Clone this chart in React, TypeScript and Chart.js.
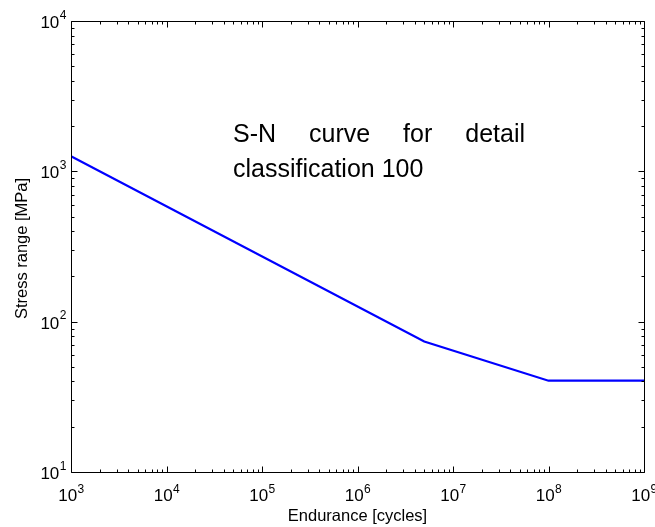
import React, { useEffect, useRef } from "react";
import { Chart, registerables } from "chart.js";

Chart.register(...registerables);

// Data
const enduranceCycles = [1e3, 5e6, 1e8, 1e9];
const stressRangeMPa = [1260, 73.7, 40.5, 40.5];

// Axis settings
const xTickExponents = [3, 4, 5, 6, 7, 8, 9];
const yTickExponents = [1, 2, 3, 4];
const xTitle = "Endurance [cycles]";
const yTitle = "Stress range [MPa]";
const noteLine1 = ["S-N", "curve", "for", "detail"];
const noteLine2 = "classification 100";

const FONT = "'Liberation Sans', Arial, Helvetica, sans-serif";

const decorPlugin = {
  id: "matlabDecor",
  afterDraw(chart: any) {
    const ctx = chart.ctx as CanvasRenderingContext2D;
    const { left, right, top, bottom } = chart.chartArea;
    const xs = chart.scales.x;
    const ys = chart.scales.y;
    ctx.save();
    ctx.strokeStyle = "#000";
    ctx.fillStyle = "#000";
    ctx.lineWidth = 1;
    const L = Math.round(left) + 0.5;
    const R = Math.round(right) + 0.5;
    const T = Math.round(top) + 0.5;
    const B = Math.round(bottom) + 0.5;
    // box
    ctx.beginPath();
    ctx.moveTo(L, T);
    ctx.lineTo(R, T);
    ctx.lineTo(R, B);
    ctx.lineTo(L, B);
    ctx.closePath();
    ctx.stroke();

    // x ticks
    ctx.beginPath();
    const xe0 = xTickExponents[0];
    const xe1 = xTickExponents[xTickExponents.length - 1];
    for (let e = xe0; e <= xe1; e++) {
      const maxM = e === xe1 ? 1 : 9;
      for (let m = 1; m <= maxM; m++) {
        const x = Math.round(xs.getPixelForValue(m * Math.pow(10, e))) + 0.5;
        const len = m === 1 ? 6 : 3;
        ctx.moveTo(x, B);
        ctx.lineTo(x, B - len);
        ctx.moveTo(x, T);
        ctx.lineTo(x, T + len);
      }
    }
    const ye0 = yTickExponents[0];
    const ye1 = yTickExponents[yTickExponents.length - 1];
    for (let e = ye0; e <= ye1; e++) {
      const maxM = e === ye1 ? 1 : 9;
      for (let m = 1; m <= maxM; m++) {
        const y = Math.round(ys.getPixelForValue(m * Math.pow(10, e))) + 0.5;
        const len = m === 1 ? 6 : 3;
        ctx.moveTo(L, y);
        ctx.lineTo(L + len, y);
        ctx.moveTo(R, y);
        ctx.lineTo(R - len, y);
      }
    }
    ctx.stroke();

    // tick labels
    const bigFont = "17px " + FONT;
    const supFont = "12px " + FONT;
    ctx.textBaseline = "alphabetic";
    xTickExponents.forEach((e) => {
      const x = xs.getPixelForValue(Math.pow(10, e));
      ctx.font = bigFont;
      const w10 = ctx.measureText("10").width;
      ctx.font = supFont;
      const ws = ctx.measureText(String(e)).width;
      const start = x - (w10 + ws) / 2;
      ctx.textAlign = "left";
      ctx.font = bigFont;
      ctx.fillText("10", start, B + 28);
      ctx.font = supFont;
      ctx.fillText(String(e), start + w10 + 0.5, B + 20);
    });
    yTickExponents.forEach((e) => {
      const y = ys.getPixelForValue(Math.pow(10, e));
      ctx.font = supFont;
      const ws = ctx.measureText(String(e)).width;
      const supX = L - 5 - ws;
      ctx.textAlign = "left";
      ctx.fillText(String(e), supX, y - 2.5);
      ctx.font = bigFont;
      ctx.textAlign = "right";
      ctx.fillText("10", supX - 0.5, y + 7);
    });

    // axis titles
    ctx.font = "16.5px " + FONT;
    ctx.textAlign = "center";
    ctx.fillText(xTitle, (left + right) / 2, 521);
    ctx.save();
    ctx.translate(27, (top + bottom) / 2 + 2);
    ctx.rotate(-Math.PI / 2);
    ctx.fillText(yTitle, 0, 0);
    ctx.restore();

    // annotation text (justified first line)
    ctx.font = "25px " + FONT;
    ctx.textAlign = "left";
    const x0 = 233;
    const x1 = 525;
    const widths = noteLine1.map((w) => ctx.measureText(w).width);
    const total = widths.reduce((a, b) => a + b, 0);
    const gap = (x1 - x0 - total) / (noteLine1.length - 1);
    let cx = x0;
    noteLine1.forEach((w, i) => {
      ctx.fillText(w, cx, 142);
      cx += widths[i] + gap;
    });
    ctx.fillText(noteLine2, x0, 177);
    ctx.restore();
  },
};

export default function App() {
  const ref = useRef<HTMLCanvasElement | null>(null);
  useEffect(() => {
    if (!ref.current) return;
    const chart = new Chart(ref.current, {
      type: "line",
      data: {
        datasets: [
          {
            data: enduranceCycles.map((n, i) => ({ x: n, y: stressRangeMPa[i] })),
            borderColor: "#0000ff",
            borderWidth: 2.2,
            pointRadius: 0,
            fill: false,
            tension: 0,
          },
        ],
      },
      options: {
        responsive: false,
        animation: false,
        devicePixelRatio: 1,
        layout: { padding: { left: 71, right: 11, top: 21, bottom: 55 } },
        plugins: { legend: { display: false }, tooltip: { enabled: false } },
        scales: {
          x: { type: "logarithmic", min: 1e3, max: 1e9, display: false },
          y: { type: "logarithmic", min: 10, max: 1e4, display: false },
        },
      },
      plugins: [decorPlugin],
    });
    return () => chart.destroy();
  }, []);
  return (
    <div style={{ position: "absolute", left: 0, top: 0, width: 655, height: 527, background: "#fff" }}>
      <canvas ref={ref} width={655} height={527} style={{ width: 655, height: 527 }} />
    </div>
  );
}
